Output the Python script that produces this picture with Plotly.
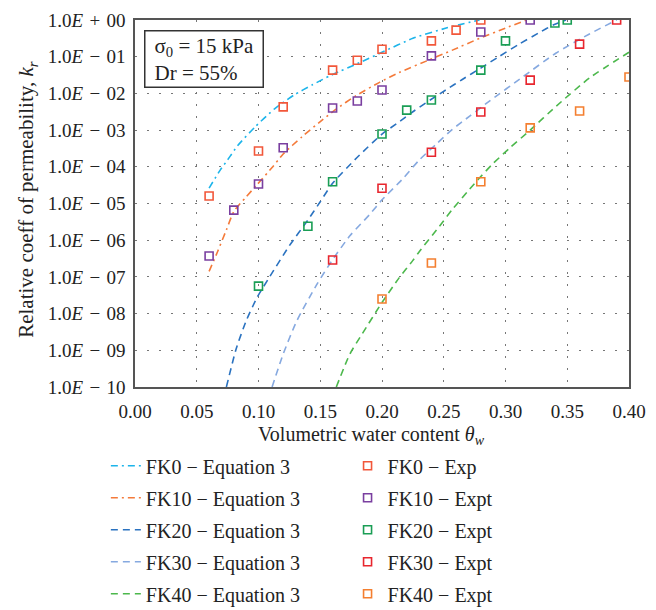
import plotly.graph_objects as go

# ---------------- data ----------------
# Experimental points
fk0_exp_x = [0.06, 0.10, 0.12, 0.16, 0.18, 0.20, 0.24, 0.26, 0.28]
fk0_exp_y = [1.6e-5, 2.7e-4, 4.3e-3, 4.3e-2, 8.0e-2, 1.6e-1, 2.7e-1, 5.3e-1, 1.0]

fk10_exp_x = [0.06, 0.08, 0.10, 0.12, 0.16, 0.18, 0.20, 0.24, 0.28, 0.32]
fk10_exp_y = [3.7e-7, 6.6e-6, 3.4e-5, 3.3e-4, 4.0e-3, 6.2e-3, 1.24e-2, 1.05e-1, 4.7e-1, 1.0]

fk20_exp_x = [0.10, 0.14, 0.16, 0.20, 0.22, 0.24, 0.28, 0.30, 0.34, 0.35]
fk20_exp_y = [5.6e-8, 2.4e-6, 3.9e-5, 7.8e-4, 3.5e-3, 6.6e-3, 4.3e-2, 2.7e-1, 8.3e-1, 1.0]

fk30_exp_x = [0.16, 0.20, 0.24, 0.28, 0.32, 0.36, 0.39]
fk30_exp_y = [2.9e-7, 2.6e-5, 2.5e-4, 3.1e-3, 2.3e-2, 2.2e-1, 1.0]

fk40_exp_x = [0.20, 0.24, 0.28, 0.32, 0.36, 0.40]
fk40_exp_y = [2.5e-8, 2.4e-7, 3.9e-5, 1.15e-3, 3.3e-3, 2.8e-2]

# Equation 3 curves
fk0_eq_x = [0.060, 0.069, 0.075, 0.083, 0.097, 0.113, 0.129, 0.144, 0.159, 0.184, 0.200, 0.225, 0.252, 0.279]
fk0_eq_y = [2.63e-5, 8.13e-5, 1.55e-4, 3.72e-4, 1.20e-3, 3.80e-3, 9.12e-3, 1.74e-2, 3.16e-2, 7.41e-2, 0.132, 0.316, 0.603, 1.0]

fk10_eq_x = [0.060, 0.067, 0.074, 0.080, 0.090, 0.099, 0.111, 0.120, 0.135, 0.151, 0.162, 0.179, 0.198, 0.214, 0.238, 0.257, 0.279, 0.300, 0.317]
fk10_eq_y = [1.41e-7, 5.01e-7, 1.91e-6, 6.03e-6, 1.51e-5, 3.31e-5, 9.55e-5, 2.24e-4, 6.46e-4, 1.82e-3, 3.55e-3, 8.71e-3, 2.00e-2, 3.72e-2, 8.13e-2, 0.151, 0.316, 0.603, 1.0]

fk20_eq_x = [0.074, 0.082, 0.090, 0.099, 0.109, 0.125, 0.140, 0.150, 0.160, 0.180, 0.200, 0.212, 0.225, 0.239, 0.252, 0.265, 0.280, 0.295, 0.311, 0.327, 0.339, 0.349]
fk20_eq_y = [1e-10, 1.12e-9, 6.31e-9, 2.82e-8, 1.0e-7, 7.08e-7, 3.55e-6, 1.12e-5, 3.55e-5, 1.82e-4, 7.76e-4, 1.51e-3, 3.16e-3, 6.61e-3, 1.26e-2, 2.40e-2, 4.90e-2, 0.102, 0.219, 0.447, 0.741, 1.0]

fk30_eq_x = [0.111, 0.120, 0.131, 0.147, 0.159, 0.174, 0.190, 0.200, 0.217, 0.230, 0.244, 0.257, 0.271, 0.287, 0.314, 0.341, 0.368, 0.390]
fk30_eq_y = [1e-10, 7.94e-10, 6.31e-9, 6.03e-8, 2.63e-7, 1.32e-6, 5.01e-6, 1.26e-5, 4.79e-5, 1.51e-4, 4.17e-4, 1.05e-3, 2.40e-3, 6.17e-3, 2.82e-2, 0.126, 0.417, 1.0]

fk40_eq_x = [0.163, 0.174, 0.184, 0.200, 0.214, 0.225, 0.230, 0.2465, 0.257, 0.2707, 0.2796, 0.2893, 0.303, 0.320, 0.341, 0.368, 0.400]
fk40_eq_y = [1e-10, 7.94e-10, 2.82e-9, 2.0e-8, 9.55e-8, 2.82e-7, 4.79e-7, 2.40e-6, 6.92e-6, 2.40e-5, 5.25e-5, 1.17e-4, 3.16e-4, 1.0e-3, 4.47e-3, 2.63e-2, 0.132]

y_tick_vals = [1e0, 1e-1, 1e-2, 1e-3, 1e-4, 1e-5, 1e-6, 1e-7, 1e-8, 1e-9, 1e-10]
y_tick_text = ["1.0<i>E</i>\u2004+\u200400"] + ["1.0<i>E</i>\u2004\u2212\u2004%02d" % k for k in range(1, 11)]
x_tick_vals = [0.00, 0.05, 0.10, 0.15, 0.20, 0.25, 0.30, 0.35, 0.40]

# ---------------- figure ----------------
FONT = "Liberation Serif, Times New Roman, serif"
TXT = "#222"
fig = go.Figure()

eq_series = [
    ("FK0 \u2212 Equation 3", fk0_eq_x, fk0_eq_y, "#1cb4ea", "7px,4px,2px,4px"),
    ("FK10 \u2212 Equation 3", fk10_eq_x, fk10_eq_y, "#f47a3a", "7px,4px,2px,4px"),
    ("FK20 \u2212 Equation 3", fk20_eq_x, fk20_eq_y, "#2a72c0", "7px,5px"),
    ("FK30 \u2212 Equation 3", fk30_eq_x, fk30_eq_y, "#86a9e0", "7px,5px"),
    ("FK40 \u2212 Equation 3", fk40_eq_x, fk40_eq_y, "#4cb84c", "7px,5px"),
]
exp_series = [
    ("FK0 \u2212 Exp", fk0_exp_x, fk0_exp_y, "#f2573a"),
    ("FK10 \u2212 Expt", fk10_exp_x, fk10_exp_y, "#7a3fa0"),
    ("FK20 \u2212 Expt", fk20_exp_x, fk20_exp_y, "#1a9e55"),
    ("FK30 \u2212 Expt", fk30_exp_x, fk30_exp_y, "#e8262e"),
    ("FK40 \u2212 Expt", fk40_exp_x, fk40_exp_y, "#f47f30"),
]

for i, (name, xs, ys, col, dash) in enumerate(eq_series):
    fig.add_trace(go.Scatter(
        x=xs, y=ys, mode="lines", name=name,
        line=dict(color=col, width=1.6, dash=dash, shape="spline", smoothing=0.6),
        legend="legend", legendgroup="eq%d" % i,
    ))

for i, (name, xs, ys, col) in enumerate(exp_series):
    fig.add_trace(go.Scatter(
        x=xs, y=ys, mode="markers", name=name,
        marker=dict(symbol="square-open", size=8, color=col, line=dict(width=1.6, color=col)),
        legend="legend2", legendgroup="ex%d" % i,
    ))

# parameter box
fig.add_annotation(
    x=0.018, y=0.973, xref="paper", yref="paper", xanchor="left", yanchor="top",
    text="\u2004\u03c3<sub>0</sub> = 15 kPa\u2004<br>\u2004Dr = 55%", align="left", showarrow=False,
    font=dict(family=FONT, size=21, color=TXT),
    bordercolor="#333", borderwidth=1.5, borderpad=2, bgcolor="white",
)
# axis titles
fig.add_annotation(
    x=-0.2186, y=0.51, xref="paper", yref="paper", xanchor="center", yanchor="middle",
    text="Relative coeff of permeability, <i>k<sub>r</sub></i>", textangle=-90,
    showarrow=False, font=dict(family=FONT, size=21, color=TXT),
)
fig.add_annotation(
    x=0.478, y=-0.1335, xref="paper", yref="paper", xanchor="center", yanchor="middle",
    text="Volumetric water content <i>\u03b8<sub>w</sub></i>",
    showarrow=False, font=dict(family=FONT, size=20, color=TXT),
)

fig.update_layout(
    width=648, height=602,
    margin=dict(l=127, r=27, t=12, b=223, autoexpand=False),
    paper_bgcolor="white", plot_bgcolor="white",
    font=dict(family=FONT, size=18, color=TXT),
    showlegend=True,
    legend=dict(
        xref="container", yref="container",
        x=0.151, y=0.272, xanchor="left", yanchor="top",
        traceorder="grouped", tracegroupgap=3,
        font=dict(family=FONT, size=20, color=TXT),
        bgcolor="rgba(0,0,0,0)",
    ),
    legend2=dict(
        xref="container", yref="container",
        x=0.524, y=0.272, xanchor="left", yanchor="top",
        traceorder="grouped", tracegroupgap=3,
        font=dict(family=FONT, size=20, color=TXT),
        bgcolor="rgba(0,0,0,0)",
    ),
)

fig.update_xaxes(
    range=[0, 0.40], tickvals=x_tick_vals, tickformat=".2f",
    showgrid=True, gridcolor="#777", griddash="2px,10px", gridwidth=1,
    showline=True, linecolor="#555", linewidth=1.5, mirror=True,
    zeroline=False, ticks="", ticklabelstandoff=6, automargin=False,
    tickfont=dict(family=FONT, size=19, color=TXT),
)
fig.update_yaxes(
    type="log", range=[-10, 0], tickvals=y_tick_vals, ticktext=y_tick_text,
    showgrid=True, gridcolor="#777", griddash="2px,10px", gridwidth=1,
    showline=True, linecolor="#555", linewidth=1.5, mirror=True,
    zeroline=False, ticks="", ticklabelstandoff=4, automargin=False,
    tickfont=dict(family=FONT, size=19, color=TXT),
)

fig.write_html("out.html")
